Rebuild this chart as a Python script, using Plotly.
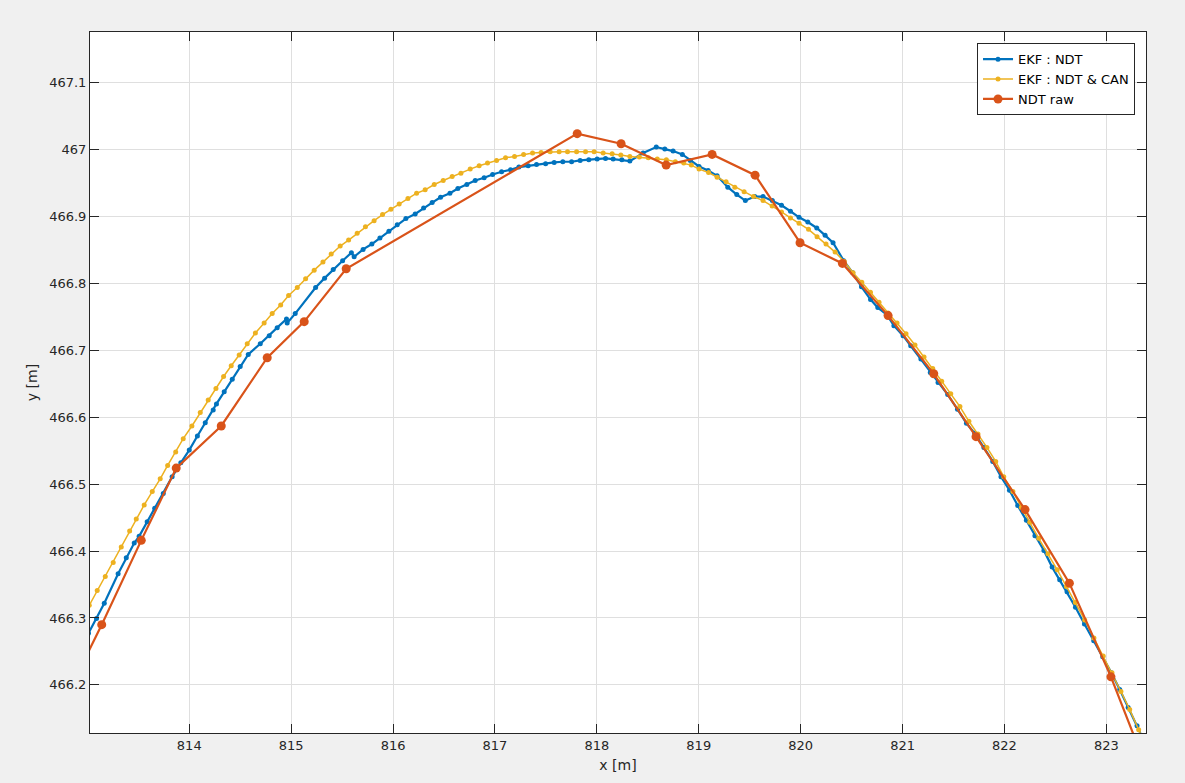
import plotly.graph_objects as go

# EKF : NDT (blue)
ekf_ndt_x = [813.011, 813.090, 813.166, 813.302, 813.382, 813.460, 813.508, 813.587, 813.661, 813.745,
             813.832, 813.917, 814.000, 814.080, 814.157, 814.235, 814.267, 814.343, 814.422, 814.500,
             814.579, 814.697, 814.785, 814.863, 814.954, 814.961, 815.040, 815.240, 815.328, 815.413,
             815.505, 815.591, 815.618, 815.706, 815.792, 815.871, 815.959, 816.041, 816.126, 816.217,
             816.300, 816.384, 816.466, 816.558, 816.636, 816.724, 816.806, 816.894, 816.977, 817.065,
             817.153, 817.235, 817.326, 817.408, 817.497, 817.581, 817.666, 817.752, 817.836, 817.921,
             818.003, 818.085, 818.160, 818.245, 818.324, 818.454, 818.583, 818.667, 818.748, 818.839,
             818.917, 819.003, 819.092, 819.180, 819.285, 819.373, 819.457, 819.550, 819.631, 819.722,
             819.812, 819.900, 819.984, 820.070, 820.158, 820.240, 820.318, 820.423, 820.511, 820.597,
             820.686, 820.757, 820.842, 820.915, 821.005, 821.080, 821.180, 821.272, 821.348, 821.443,
             821.539, 821.627, 821.708, 821.798, 821.885, 821.966, 822.049, 822.130, 822.215, 822.299,
             822.387, 822.468, 822.542, 822.614, 822.697, 822.785, 822.876, 822.964, 823.049, 823.131,
             823.214, 823.301, 823.376]
ekf_ndt_y = [466.277, 466.299, 466.322, 466.366, 466.390, 466.412, 466.422, 466.444, 466.464, 466.486,
             466.511, 466.532, 466.551, 466.572, 466.592, 466.611, 466.620, 466.638, 466.657, 466.676,
             466.694, 466.710, 466.722, 466.734, 466.747, 466.741, 466.755, 466.794, 466.808, 466.821,
             466.834, 466.846, 466.840, 466.851, 466.859, 466.868, 466.878, 466.888, 466.897, 466.904,
             466.913, 466.921, 466.929, 466.935, 466.942, 466.948, 466.954, 466.958, 466.963, 466.967,
             466.970, 466.974, 466.976, 466.978, 466.979, 466.981, 466.982, 466.982, 466.984, 466.985,
             466.986, 466.987, 466.986, 466.985, 466.983, 466.995, 467.004, 467.001, 466.998, 466.993,
             466.984, 466.975, 466.969, 466.961, 466.944, 466.933, 466.924, 466.930, 466.930, 466.924,
             466.917, 466.908, 466.899, 466.892, 466.883, 466.872, 466.861, 466.834, 466.816, 466.795,
             466.776, 466.764, 466.754, 466.737, 466.722, 466.707, 466.687, 466.667, 466.652, 466.634,
             466.612, 466.591, 466.576, 466.555, 466.534, 466.511, 466.491, 466.468, 466.446, 466.423,
             466.401, 466.376, 466.357, 466.339, 466.316, 466.291, 466.266, 466.242, 466.218, 466.193,
             466.166, 466.139, 466.114]

# EKF : NDT & CAN (yellow)
ekf_can_x = [813.019, 813.097, 813.176, 813.254, 813.333, 813.415, 813.480, 813.558, 813.637, 813.715,
             813.788, 813.867, 813.941, 814.026, 814.108, 814.186, 814.262, 814.337, 814.412, 814.490,
             814.569, 814.649, 814.735, 814.814, 814.897, 814.975, 815.060, 815.142, 815.226, 815.312,
             815.393, 815.481, 815.564, 815.648, 815.729, 815.814, 815.897, 815.979, 816.060, 816.146,
             816.231, 816.315, 816.404, 816.492, 816.580, 816.666, 816.757, 816.845, 816.927, 817.016,
             817.104, 817.192, 817.281, 817.369, 817.453, 817.542, 817.630, 817.712, 817.801, 817.889,
             817.973, 818.062, 818.150, 818.235, 818.324, 818.417, 818.505, 818.593, 818.682, 818.770,
             818.853, 818.927, 819.003, 819.096, 819.180, 819.268, 819.354, 819.445, 819.537, 819.631,
             819.720, 819.812, 819.900, 819.984, 820.077, 820.161, 820.249, 820.338, 820.428, 820.514,
             820.600, 820.685, 820.769, 820.858, 820.946, 821.034, 821.122, 821.211, 821.296, 821.384,
             821.473, 821.563, 821.651, 821.740, 821.828, 821.914, 821.993, 822.083, 822.166, 822.248,
             822.336, 822.427, 822.518, 822.608, 822.696, 822.787, 822.878, 822.969, 823.055, 823.143,
             823.229, 823.317, 823.405]
ekf_can_y = [466.319, 466.341, 466.362, 466.383, 466.406, 466.430, 466.448, 466.469, 466.489, 466.508,
             466.528, 466.548, 466.568, 466.587, 466.607, 466.626, 466.643, 466.661, 466.677, 466.693,
             466.710, 466.726, 466.741, 466.755, 466.768, 466.782, 466.794, 466.807, 466.820, 466.832,
             466.844, 466.856, 466.865, 466.875, 466.885, 466.894, 466.903, 466.911, 466.919, 466.927,
             466.935, 466.940, 466.948, 466.954, 466.960, 466.965, 466.971, 466.976, 466.980, 466.984,
             466.988, 466.990, 466.993, 466.995, 466.996, 466.997, 466.997, 466.997, 466.997, 466.997,
             466.997, 466.995, 466.994, 466.992, 466.990, 466.989, 466.988, 466.986, 466.985, 466.982,
             466.980, 466.977, 466.971, 466.966, 466.959, 466.952, 466.944, 466.937, 466.930, 466.924,
             466.916, 466.907, 466.898, 466.890, 466.881, 466.870, 466.859, 466.847, 466.833, 466.816,
             466.802, 466.787, 466.772, 466.756, 466.741, 466.725, 466.708, 466.690, 466.673, 466.654,
             466.635, 466.616, 466.594, 466.575, 466.555, 466.534, 466.511, 466.489, 466.465, 466.443,
             466.419, 466.396, 466.372, 466.347, 466.323, 466.297, 466.270, 466.243, 466.218, 466.190,
             466.163, 466.133, 466.103]

# NDT raw (red)
ndt_raw_x = [812.750, 813.141, 813.529, 813.872, 814.314, 814.765, 815.128, 815.540, 817.807, 818.238,
             818.680, 819.131, 819.553, 819.994, 820.410, 820.858, 821.306, 821.721, 822.202, 822.637,
             823.045, 823.450]
ndt_raw_y = [466.169, 466.290, 466.416, 466.524, 466.587, 466.689, 466.743, 466.822, 467.024, 467.009,
             466.977, 466.993, 466.962, 466.861, 466.830, 466.752, 466.665, 466.571, 466.462, 466.352,
             466.212, 466.054]

x_ticks = [814, 815, 816, 817, 818, 819, 820, 821, 822, 823]
y_ticks = [466.2, 466.3, 466.4, 466.5, 466.6, 466.7, 466.8, 466.9, 467.0, 467.1]
y_tick_text = ["466.2", "466.3", "466.4", "466.5", "466.6", "466.7", "466.8", "466.9", "467", "467.1"]
x_range = [813.026, 823.389]
y_range = [466.128, 467.176]

fig = go.Figure()
fig.add_trace(go.Scatter(x=ekf_ndt_x, y=ekf_ndt_y, mode="lines+markers", name="EKF : NDT",
                         line=dict(color="#0072BD", width=2.2), marker=dict(size=5, color="#0072BD")))
fig.add_trace(go.Scatter(x=ekf_can_x, y=ekf_can_y, mode="lines+markers", name="EKF : NDT & CAN",
                         line=dict(color="#EDB120", width=1.5), marker=dict(size=5, color="#EDB120")))
fig.add_trace(go.Scatter(x=ndt_raw_x, y=ndt_raw_y, mode="lines+markers", name="NDT raw",
                         line=dict(color="#D95319", width=2.2), marker=dict(size=9, color="#D95319")))

axis_common = dict(showgrid=True, gridcolor="#dfdfdf", gridwidth=1, zeroline=False,
                   showline=True, linecolor="#262626", linewidth=1, mirror="ticks",
                   ticks="inside", ticklen=9, tickcolor="#262626", tickwidth=1,
                   tickfont=dict(family="DejaVu Sans", size=13, color="#262626"))

fig.update_xaxes(range=x_range, tickvals=x_ticks, ticktext=[str(v) for v in x_ticks],
                 title=dict(text="x [m]", font=dict(family="DejaVu Sans", size=14, color="#262626"), standoff=8),
                 **axis_common)
fig.update_yaxes(range=y_range, tickvals=y_ticks, ticktext=y_tick_text,
                 title=dict(text="y [m]", font=dict(family="DejaVu Sans", size=14, color="#262626"), standoff=8),
                 **axis_common)

fig.update_layout(
    width=1185, height=783,
    paper_bgcolor="#f0f0f0", plot_bgcolor="#ffffff",
    margin=dict(l=90, r=39, t=32, b=50, autoexpand=False),
    font=dict(family="DejaVu Sans", color="#262626"),
    legend=dict(x=0.9896, y=0.984, xanchor="right", yanchor="top",
                bgcolor="#ffffff", bordercolor="#262626", borderwidth=1,
                font=dict(family="DejaVu Sans", size=13, color="#000000"),
                tracegroupgap=0, itemwidth=30),
    showlegend=True,
)

fig.write_html("out.html", config={"displayModeBar": False},
               post_script="document.body.style.margin='0';document.body.style.overflow='hidden';")
